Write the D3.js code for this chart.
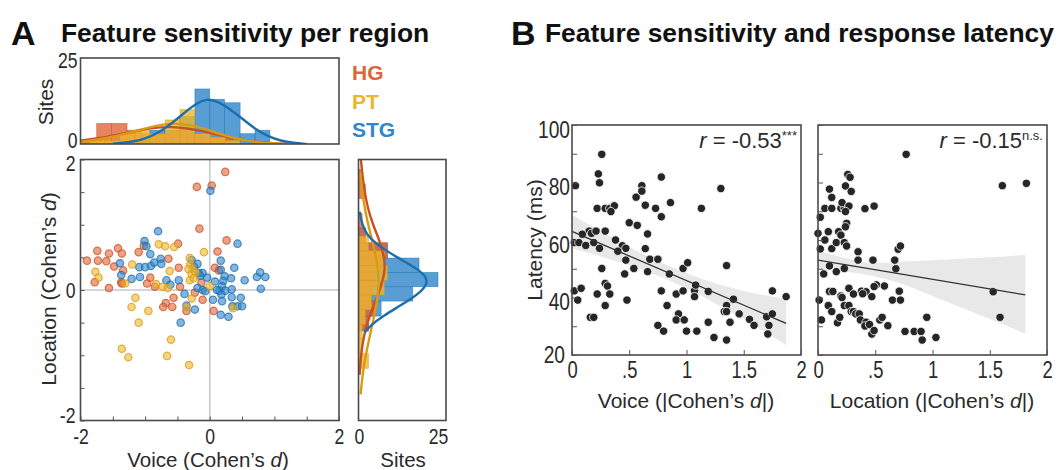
<!DOCTYPE html>
<html>
<head>
<meta charset="utf-8">
<script src="https://cdn.jsdelivr.net/npm/d3@7"></script>
<style>
  body { margin: 0; background: #fff; }
  svg { display: block; }
  text { font-family: "Liberation Sans", Arial, sans-serif; fill: #2a2a2a; }
</style>
</head>
<body>
<svg width="1062" height="470"></svg>
<script>
// ---------- panel A data: Voice d (x) vs Location d (y), per region
var hgPts = [
  [0.24,1.81],[-0.20,1.58],[0.03,1.60],[-0.16,0.94],[0.26,0.76],[-0.49,0.71],[0.12,0.59],
  [-1.74,0.60],[-1.42,0.64],[-1.56,0.56],[-1.36,0.56],[-1.10,0.58],[-1.02,0.68],[-1.90,0.45],
  [-1.73,0.45],[-1.60,0.44],[-1.48,0.36],[-1.34,0.30],[-0.64,0.48],[-0.48,0.34],[0.08,0.34],
  [0.14,0.30],[-1.78,0.12],[-1.37,0.12],[-1.56,0.03],[-0.97,0.10],[-0.92,0.19],[-0.85,0.05],
  [-0.46,0.05],[-0.13,0.11],[-0.23,-0.04],[-0.11,-0.15],[0.06,-0.32],[-0.56,-0.12],[-0.68,-0.20],
  [-0.72,-0.26],[-0.58,-0.26],[-0.36,-0.32],[-1.36,0.10]
];
var stgPts = [
  [0.01,1.52],[-0.80,0.90],[-1.01,0.75],[-0.98,0.67],[-0.92,0.55],[0.43,0.71],[-1.39,0.41],
  [-1.37,0.23],[-1.21,0.17],[-1.08,0.20],[-1.09,0.35],[-1.00,0.35],[-0.91,0.37],[-0.86,0.42],
  [-0.76,0.48],[-0.75,0.40],[-0.67,0.15],[-0.61,0.08],[-0.48,0.15],[-0.39,-0.06],[-0.36,-0.24],
  [-0.23,-0.30],[-0.45,-0.50],[-0.28,0.46],[-0.19,0.40],[-0.24,0.35],[-0.17,0.26],[-0.11,0.26],
  [-0.04,0.19],[-0.19,0.03],[-0.11,0.00],[-0.07,-0.02],[0.05,-0.15],[0.17,0.45],[0.17,0.31],
  [0.23,0.21],[0.21,0.14],[0.19,0.06],[0.15,-0.01],[0.24,-0.01],[0.18,-0.07],[0.11,0.00],
  [0.38,0.34],[0.33,0.18],[0.34,0.01],[0.19,-0.17],[0.34,-0.11],[0.48,-0.12],[0.35,-0.25],
  [0.43,-0.25],[0.50,-0.25],[0.17,-0.38],[0.29,-0.41],[0.54,0.15],[0.73,0.20],[0.78,0.27],
  [0.86,0.20],[0.79,0.02],[-0.15,0.22],[0.08,0.13]
];
var ptPts = [
  [-0.79,0.70],[-0.69,0.67],[-0.55,0.66],[-0.09,0.58],[-1.20,0.39],[-1.77,0.28],[-1.72,0.19],
  [-1.31,0.10],[-0.83,0.09],[-0.73,0.05],[-0.65,0.03],[-0.62,0.29],[-0.31,0.49],[-0.30,0.39],
  [-0.27,0.32],[-0.33,0.32],[-0.28,0.24],[-0.22,0.27],[-0.31,0.15],[-0.25,0.18],[0.00,0.06],
  [-1.15,-0.12],[-1.21,-0.26],[-0.95,-0.32],[-1.10,-0.50],[-0.60,-0.76],[-1.36,-0.90],
  [-1.26,-1.03],[-0.66,-1.01],[-0.32,-1.15],[0.36,-0.28],[-0.28,-0.13],[-0.36,-0.26]
];

// top histogram (Voice), bin edges + counts per region
var hgEdgesX = [-1.98,-1.75,-1.52,-1.28,-1.05,-0.82,-0.58,-0.35,-0.12,0.12,0.35];
var hgCountsX = [1,6,6,4,3,3,4,3,2,2];
var ptEdgesX = [-1.86,-1.63,-1.39,-1.16,-0.93,-0.69,-0.46,-0.23,0.01,0.24,0.47];
var ptCountsX = [1,1,3,4,3,7,10,3,2,1];
var stgEdgesX = [-1.17,-0.93,-0.70,-0.47,-0.23,0,0.23,0.47,0.70,0.93];
var stgCountsX = [1,4,4,8,16,13,12,3,4];

// right histogram (Location)
var hgEdgesY = [-0.625,-0.40,-0.175,0.05,0.275,0.50,0.725,0.95,1.175,1.40,1.625,1.85];
var hgCountsY = [3,5,4,5,7,9,2,1,0,2,1];
var ptEdgesY = [-1.2,-0.975,-0.75,-0.525,-0.30,-0.075,0.15,0.375,0.60,0.825];
var ptCountsY = [3,1,1,2,4,8,9,8,3];
var stgEdgesY = [-0.63,-0.40,-0.17,0.05,0.27,0.49,0.72,0.95];
var stgCountsY = [3,7,17,25,19,9,2];

// fitted curves: [d, sites]
var hgCurveX = [[-2,1.0],[-1.7,1.7],[-1.4,2.8],[-1.1,4.0],[-0.85,4.8],[-0.6,5.0],[-0.35,4.6],
  [-0.1,3.7],[0.15,2.6],[0.4,1.6],[0.65,0.8],[0.9,0.3],[1.2,0.05]];
var ptCurveX = [[-2,0.6],[-1.7,1.3],[-1.4,2.5],[-1.1,4.0],[-0.8,5.5],[-0.55,6.1],[-0.3,5.6],
  [0,3.9],[0.25,2.4],[0.5,1.2],[0.75,0.5],[1.0,0.15],[1.2,0]];
var stgCurveX = [[-1.5,0.1],[-1.2,0.6],[-1.0,1.5],[-0.8,3.2],[-0.6,5.8],[-0.4,9],[-0.2,11.9],
  [-0.05,13.1],[0.1,12.6],[0.3,10.4],[0.5,7.4],[0.7,4.4],[0.9,2.2],[1.1,0.9],[1.3,0.3],[1.5,0]];
var hgCurveY = [[2,0.6],[1.75,1.1],[1.5,1.8],[1.25,2.8],[1.0,4.4],[0.75,6.6],[0.5,8.0],[0.3,8.3],
  [0.05,7.0],[-0.2,5.0],[-0.45,3.0],[-0.7,1.5],[-1.0,0.6],[-1.3,0.2]];
var ptCurveY = [[1.8,0.4],[1.5,1],[1.2,2],[0.9,3.4],[0.6,5],[0.3,6.1],[0.1,6.3],[-0.15,5.8],
  [-0.45,4.6],[-0.75,3.2],[-1.05,1.9],[-1.35,1],[-1.6,0.5]];
var stgCurveY = [[1.2,0.2],[1.0,1.0],[0.85,2.4],[0.7,5.5],[0.5,12],[0.3,19.5],[0.15,22],[0,20.5],
  [-0.2,14.5],[-0.4,7.5],[-0.55,3.5],[-0.65,1.8]];

// ---------- panel B data: |d| vs latency (ms)
var voicePts = [
  [0.26,89.8],[0.23,83.0],[0.24,79.9],[0.03,78.9],[0.61,78.9],[0.61,77.0],[0.78,81.9],[1.30,77.9],
  [0.56,74.9],[0.64,72.1],[0.73,71.0],[0.86,73.0],[0.78,68.1],[1.13,71.0],[0.22,71.0],[0.29,71.0],
  [0.33,71.0],[0.37,71.9],[0.34,69.9],[0.50,66.0],[0.57,65.1],[0.66,62.1],[0.29,63.1],[0.15,63.1],
  [0.17,62.3],[0.21,63.1],[0.09,62.0],[0.02,59.1],[0.06,59.1],[0.12,58.1],[0.19,59.1],[0.24,57.1],
  [0.38,60.0],[0.44,58.0],[0.47,57.1],[0.40,56.1],[0.47,53.0],[0.64,57.0],[0.68,53.3],[0.75,53.3],
  [0.66,49.0],[0.54,50.1],[0.46,48.2],[0.26,50.1],[0.85,48.2],[0.97,50.1],[1.01,52.1],[1.35,51.1],
  [0.02,42.3],[0.08,43.2],[0.05,39.1],[0.22,41.2],[0.29,44.9],[0.31,44.0],[0.33,41.2],[0.29,37.2],
  [0.48,39.1],[0.16,33.1],[0.19,33.1],[0.78,42.3],[0.83,37.2],[0.91,41.2],[0.97,42.3],[1.07,42.4],
  [1.08,44.3],[1.07,40.3],[1.19,42.1],[0.93,34.3],[0.91,32.2],[0.98,32.2],[0.75,30.3],[0.80,28.3],
  [1.00,28.3],[1.09,28.3],[1.19,31.4],[1.24,26.1],[1.35,25.2],[1.35,37.2],[1.33,35.1],[1.35,35.1],
  [1.38,31.4],[1.41,39.4],[1.46,34.3],[1.55,32.4],[1.59,30.3],[1.70,33.3],[1.75,34.3],[1.72,30.3],
  [1.71,27.3],[1.75,42.3],[1.87,40.3]
];
var locationPts = [
  [0.77,89.8],[1.61,78.9],[1.82,79.7],[0.26,82.8],[0.28,81.8],[0.10,77.7],[0.12,74.8],[0.24,78.8],
  [0.29,76.9],[0.06,71.0],[0.12,71.0],[0.20,71.0],[0.23,71.0],[0.21,73.0],[0.27,71.8],[0.24,69.9],
  [0.02,67.9],[0.41,70.9],[0.49,71.8],[0.25,65.8],[0.24,64.6],[0.00,62.3],[0.09,62.9],[0.18,62.9],
  [0.20,61.7],[0.06,60.0],[0.02,56.9],[0.12,57.0],[0.16,59.1],[0.23,59.1],[0.25,57.9],[0.35,55.9],
  [0.35,53.0],[0.48,53.0],[0.67,53.0],[0.68,50.0],[0.70,56.8],[0.72,57.9],[0.10,51.0],[0.05,48.2],
  [0.16,49.0],[0.23,50.1],[0.10,42.1],[0.13,42.1],[0.20,40.5],[0.21,40.0],[0.27,43.2],[0.31,41.2],
  [0.38,42.2],[0.42,42.0],[0.39,41.3],[0.47,40.3],[0.51,44.4],[0.49,43.8],[0.58,44.0],[0.65,39.1],
  [0.72,39.1],[0.71,42.2],[0.01,39.1],[0.03,32.2],[0.09,37.2],[0.12,35.1],[0.17,31.2],[0.19,33.1],
  [0.23,37.2],[0.27,37.2],[0.29,35.1],[0.31,35.1],[0.33,34.3],[0.36,34.3],[0.37,32.2],[0.42,31.4],
  [0.41,30.1],[0.45,30.6],[0.47,27.3],[0.49,28.5],[0.54,32.2],[0.56,33.1],[0.61,30.2],[0.84,28.2],
  [0.91,25.2],[0.90,28.2],[0.95,33.1],[1.03,26.1],[1.53,42.0],[1.59,33.1],[0.76,28.2]
];

// regression lines and confidence bands
var voiceFit = [[0, 63.0], [1.87, 31.0]];
var voiceBandX = [0, 0.25, 0.5, 0.75, 1.0, 1.25, 1.5, 1.87];
var voiceBandHi = [68.8, 63.1, 57.6, 52.6, 48.4, 45.0, 42.3, 39.5];
var voiceBandLo = [57.2, 54.3, 51.2, 47.6, 43.2, 38.0, 32.4, 23.5];
var locationFit = [[0, 53.0], [1.81, 40.9]];
var locationBandX = [0, 0.25, 0.5, 0.75, 1.0, 1.25, 1.5, 1.81];
var locationBandHi = [56.3, 53.6, 52.0, 52.5, 53.0, 53.5, 54.0, 54.8];
var locationBandLo = [49.7, 49.0, 47.3, 44.5, 40.5, 36.5, 32.5, 27.5];

var regions = ["HG", "PT", "STG"];
var regionColors = {HG: "#E0643A", PT: "#EDB52D", STG: "#2E86CB"};
var regionEdge = {HG: "#C9501F", PT: "#D99B12", STG: "#1C6FAF"};

var svg = d3.select("svg");
var boxColor = "#4a4a4a";

// ---------- scales
var xA = d3.scaleLinear().domain([-2, 2]).range([80.5, 339]);
var yA = d3.scaleLinear().domain([-2, 2]).range([420.5, 159.5]);
var yTop = d3.scaleLinear().domain([0, 25]).range([144, 58]);
var xSide = d3.scaleLinear().domain([0, 25]).range([359, 438]);

var yB = d3.scaleLinear().domain([20, 100]).range([355, 125]);
var xVoice = d3.scaleLinear().domain([0, 2]).range([572, 801]);
var xLoc = d3.scaleLinear().domain([0, 2]).range([818, 1047]);

// tick labels in the figure use a narrow face: squeeze regular glyphs
var styleAxis = function(g, size) {
  g.select(".domain").remove();
  g.selectAll(".tick line").attr("stroke", "#555").attr("stroke-width", 1);
  g.selectAll(".tick text")
    .style("font-size", size + "px")
    .attr("fill", "#2a2a2a")
    .each(function() {
      var len = this.getComputedTextLength();
      if (len > 0) {
        d3.select(this).attr("textLength", len * 0.8).attr("lengthAdjust", "spacingAndGlyphs");
      }
    });
};

var drawBox = function(x0, y0, x1, y1) {
  svg.append("rect")
    .attr("x", x0).attr("y", y0)
    .attr("width", x1 - x0).attr("height", y1 - y0)
    .attr("fill", "none")
    .attr("stroke", boxColor)
    .attr("stroke-width", 1.6);
};

var clip = function(id, x0, y0, x1, y1) {
  svg.append("clipPath").attr("id", id)
    .append("rect").attr("x", x0).attr("y", y0).attr("width", x1 - x0).attr("height", y1 - y0);
};

// ---------- panel A: titles
svg.append("text").attr("x", 11).attr("y", 45)
  .style("font-size", "34px").style("font-weight", "bold").style("fill", "#111").text("A");
svg.append("text").attr("x", 61).attr("y", 42)
  .style("font-size", "26.4px").style("font-weight", "bold").style("fill", "#111")
  .text("Feature sensitivity per region");

// top histogram
clip("clipTop", 80.5, 58, 339, 144);
var topG = svg.append("g").attr("clip-path", "url(#clipTop)");
var histBarsX = function(edges, counts, region) {
  topG.selectAll(null)
    .data(counts)
    .enter().append("rect")
    .attr("x", function(d, i) { return xA(edges[i]); })
    .attr("width", function(d, i) { return xA(edges[i + 1]) - xA(edges[i]); })
    .attr("y", function(d) { return yTop(d); })
    .attr("height", function(d) { return yTop(0) - yTop(d); })
    .attr("fill", regionColors[region])
    .attr("fill-opacity", 0.8)
    .attr("stroke", regionEdge[region])
    .attr("stroke-opacity", 0.6)
    .attr("stroke-width", 0.7);
};
histBarsX(stgEdgesX, stgCountsX, "STG");
histBarsX(hgEdgesX, hgCountsX, "HG");
histBarsX(ptEdgesX, ptCountsX, "PT");

var curveTop = d3.line()
  .x(function(d) { return xA(d[0]); })
  .y(function(d) { return yTop(d[1]); })
  .curve(d3.curveBasis);
[["HG", hgCurveX], ["PT", ptCurveX], ["STG", stgCurveX]].forEach(function(c) {
  topG.append("path")
    .attr("d", curveTop(c[1]))
    .attr("fill", "none")
    .attr("stroke", regionEdge[c[0]])
    .attr("stroke-width", 2.4);
});
drawBox(80.5, 58, 339, 144);

var yTopAxis = d3.axisLeft(yTop).tickValues([0, 25]).tickSize(0).tickPadding(3);
svg.append("g").attr("transform", "translate(80.5,0)")
  .call(yTopAxis).call(styleAxis, 22)
  .selectAll(".tick text").attr("dy", function(d) { return d === 0 ? "0.15em" : "0.42em"; });

svg.append("text")
  .attr("transform", "translate(53,102) rotate(-90)")
  .style("font-size", "21px").style("text-anchor", "middle")
  .text("Sites");

// legend
regions.forEach(function(r, i) {
  svg.append("text")
    .attr("x", 352).attr("y", 80 + i * 28.5)
    .style("font-size", "21px").style("font-weight", "bold")
    .style("fill", regionColors[r])
    .text(r);
});

// scatter
svg.append("line")
  .attr("x1", xA(-2)).attr("x2", xA(2)).attr("y1", yA(0)).attr("y2", yA(0))
  .attr("stroke", "#c9c9c9").attr("stroke-width", 1.6);
svg.append("line")
  .attr("x1", xA(0)).attr("x2", xA(0)).attr("y1", yA(-2)).attr("y2", yA(2))
  .attr("stroke", "#c9c9c9").attr("stroke-width", 1.6);

var scatterA = function(pts, region) {
  svg.append("g").selectAll("circle")
    .data(pts)
    .enter().append("circle")
    .attr("cx", function(d) { return xA(d[0]); })
    .attr("cy", function(d) { return yA(d[1]); })
    .attr("r", 3.7)
    .attr("fill", regionColors[region])
    .attr("fill-opacity", 0.6)
    .attr("stroke", regionEdge[region])
    .attr("stroke-opacity", 0.75)
    .attr("stroke-width", 1.2);
};
scatterA(hgPts, "HG");
scatterA(stgPts, "STG");
scatterA(ptPts, "PT");
drawBox(80.5, 159.5, 339, 420.5);

var halfTicks = d3.range(-2, 2.01, 0.5);
var bigLabel = function(d) { return (d === -2 || d === 0 || d === 2) ? String(d) : ""; };

var xAAxis = d3.axisBottom(xA).tickValues(halfTicks).tickSize(-4).tickPadding(8).tickFormat(bigLabel);
svg.append("g").attr("transform", "translate(0,420.5)").call(xAAxis).call(styleAxis, 22);

var yAAxis = d3.axisLeft(yA).tickValues(halfTicks).tickSize(-4).tickPadding(5).tickFormat(bigLabel);
svg.append("g").attr("transform", "translate(80.5,0)").call(yAAxis).call(styleAxis, 22)
  .selectAll(".tick text").attr("dy", function(d) {
    return d === 2 ? "0.5em" : d === -2 ? "0.1em" : "0.32em";
  });

var voiceLabel = svg.append("text")
  .attr("x", 208).attr("y", 467)
  .style("font-size", "20.5px").style("text-anchor", "middle");
voiceLabel.append("tspan").text("Voice (Cohen\u2019s ");
voiceLabel.append("tspan").style("font-style", "italic").text("d");
voiceLabel.append("tspan").text(")");

var locLabel = svg.append("text")
  .attr("transform", "translate(56,289) rotate(-90)")
  .style("font-size", "21px").style("text-anchor", "middle");
locLabel.append("tspan").text("Location (Cohen\u2019s ");
locLabel.append("tspan").style("font-style", "italic").text("d");
locLabel.append("tspan").text(")");

// right histogram
clip("clipSide", 359, 159.5, 446, 420.5);
var sideG = svg.append("g").attr("clip-path", "url(#clipSide)");
var histBarsY = function(edges, counts, region) {
  sideG.selectAll(null)
    .data(counts)
    .enter().append("rect")
    .attr("x", xSide(0))
    .attr("width", function(d) { return xSide(d) - xSide(0); })
    .attr("y", function(d, i) { return yA(edges[i + 1]); })
    .attr("height", function(d, i) { return yA(edges[i]) - yA(edges[i + 1]); })
    .attr("fill", regionColors[region])
    .attr("fill-opacity", 0.8)
    .attr("stroke", regionEdge[region])
    .attr("stroke-opacity", 0.6)
    .attr("stroke-width", 0.7);
};
histBarsY(stgEdgesY, stgCountsY, "STG");
histBarsY(hgEdgesY, hgCountsY, "HG");
histBarsY(ptEdgesY, ptCountsY, "PT");

var curveSide = d3.line()
  .x(function(d) { return xSide(d[1]); })
  .y(function(d) { return yA(d[0]); })
  .curve(d3.curveBasis);
[["HG", hgCurveY], ["PT", ptCurveY], ["STG", stgCurveY]].forEach(function(c) {
  sideG.append("path")
    .attr("d", curveSide(c[1]))
    .attr("fill", "none")
    .attr("stroke", regionEdge[c[0]])
    .attr("stroke-width", 2.4);
});
drawBox(358.5, 159.5, 446, 420.5);

var xSideAxis = d3.axisBottom(xSide).tickValues([0, 25]).tickSize(0).tickPadding(8);
svg.append("g").attr("transform", "translate(0,420.5)").call(xSideAxis).call(styleAxis, 22);

svg.append("text").attr("x", 403).attr("y", 467)
  .style("font-size", "20.5px").style("text-anchor", "middle").text("Sites");

// ---------- panel B
svg.append("text").attr("x", 511).attr("y", 45)
  .style("font-size", "34px").style("font-weight", "bold").style("fill", "#111").text("B");
svg.append("text").attr("x", 545).attr("y", 42)
  .style("font-size", "26.4px").style("font-weight", "bold").style("fill", "#111")
  .text("Feature sensitivity and response latency");

var fmtD = function(d) { return String(d).replace(/^0\./, "."); };
var latTicks = d3.range(20, 100.1, 10);

var drawLatency = function(xS, pts, fit, bandX, bandHi, bandLo, showY) {
  var band = d3.area()
    .x(function(d, i) { return xS(bandX[i]); })
    .y0(function(d, i) { return yB(bandLo[i]); })
    .y1(function(d, i) { return yB(bandHi[i]); })
    .curve(d3.curveMonotoneX);
  svg.append("path").datum(bandX)
    .attr("d", band)
    .attr("fill", "#e4e4e4")
    .attr("fill-opacity", 0.85);

  svg.append("g").selectAll("circle")
    .data(pts)
    .enter().append("circle")
    .attr("cx", function(d) { return xS(d[0]); })
    .attr("cy", function(d) { return yB(d[1]); })
    .attr("r", 4.2)
    .attr("fill", "#262626")
    .attr("stroke", "#fff")
    .attr("stroke-width", 0.8);

  svg.append("path").datum(fit)
    .attr("d", d3.line().x(function(d) { return xS(d[0]); }).y(function(d) { return yB(d[1]); }))
    .attr("stroke", "#333")
    .attr("stroke-width", 1.3)
    .attr("fill", "none");

  drawBox(xS(0), yB(100), xS(2), yB(20));

  var xAx = d3.axisBottom(xS).tickValues([0, 0.5, 1, 1.5, 2])
    .tickSize(-5).tickPadding(7).tickFormat(fmtD);
  svg.append("g").attr("transform", "translate(0," + yB(20) + ")").call(xAx).call(styleAxis, 23);

  var yAx = d3.axisLeft(yB).tickValues(latTicks).tickSize(-5).tickPadding(2)
    .tickFormat(function(d) { return (showY && d % 20 === 0) ? d : ""; });
  svg.append("g").attr("transform", "translate(" + xS(0) + ",0)").call(yAx).call(styleAxis, 24)
    .selectAll(".tick text")
    .attr("dy", function(d) { return d === 20 ? "0.3em" : "0.5em"; })
    .attr("dx", function(d) { return d === 20 ? -5 : 0; });
};

drawLatency(xVoice, voicePts, voiceFit, voiceBandX, voiceBandHi, voiceBandLo, true);
drawLatency(xLoc, locationPts, locationFit, locationBandX, locationBandHi, locationBandLo, false);

var rText = function(xRight, value, mark) {
  var t = svg.append("text")
    .attr("x", xRight).attr("y", 148)
    .style("font-size", "22px").style("text-anchor", "end");
  t.append("tspan").style("font-style", "italic").text("r");
  t.append("tspan").text(" = " + value);
  t.append("tspan").attr("dy", -8).style("font-size", "13px").text(mark);
};
rText(797, "-0.53", "***");
rText(1043, "-0.15", "n.s.");

var vB = svg.append("text").attr("x", 686).attr("y", 408)
  .style("font-size", "21px").style("text-anchor", "middle");
vB.append("tspan").text("Voice (|Cohen\u2019s ");
vB.append("tspan").style("font-style", "italic").text("d");
vB.append("tspan").text("|)");

var lB = svg.append("text").attr("x", 932).attr("y", 408)
  .style("font-size", "21px").style("text-anchor", "middle");
lB.append("tspan").text("Location (|Cohen\u2019s ");
lB.append("tspan").style("font-style", "italic").text("d");
lB.append("tspan").text("|)");

svg.append("text")
  .attr("transform", "translate(542,240) rotate(-90)")
  .style("font-size", "21px").style("text-anchor", "middle")
  .text("Latency (ms)");
</script>
</body>
</html>
